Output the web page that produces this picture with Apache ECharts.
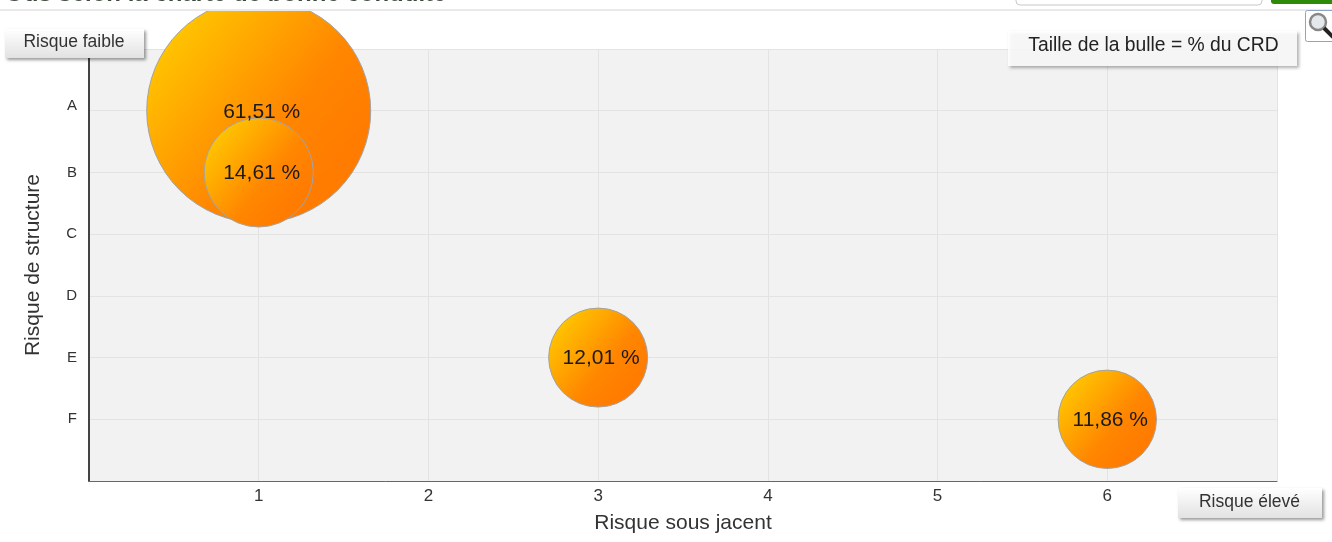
<!DOCTYPE html>
<html>
<head>
<meta charset="utf-8">
<style>html,body{margin:0;padding:0;background:#fff}#chart{width:1332px;height:542px}</style>
<script src="https://cdn.jsdelivr.net/npm/echarts@6/dist/echarts.min.js"></script>
</head>
<body>
<div id="chart"></div>
<script>
const xTicks = ['', '1', '2', '3', '4', '5', '6', ''];
const yTicks = ['', '{up|A}', 'B', 'C', 'D', 'E', 'F', ''];
const riskX = [1, 1, 3, 6];
const riskY = [1, 2, 5, 6];
const shares = [61.51, 14.61, 12.01, 11.86];

const font = '"Liberation Sans", Arial, sans-serif';
const chart = echarts.init(document.getElementById('chart'));

const fill = new echarts.graphic.LinearGradient(0.08, 0.08, 0.85, 0.72, [
  { offset: 0, color: '#ffcc00' },
  { offset: 0.7, color: '#ff8600' },
  { offset: 1, color: '#ff7c00' }
]);

function button(x, y, w, h, label) {
  return {
    type: 'group',
    z: 100,
    children: [
      {
        type: 'rect',
        z: 100,
        shape: { x, y, width: w, height: h },
        style: {
          fill: new echarts.graphic.LinearGradient(0, 0, 0, 1, [
            { offset: 0, color: '#ffffff' },
            { offset: 1, color: '#e2e2e2' }
          ]),
          shadowBlur: 3,
          shadowOffsetX: 2,
          shadowOffsetY: 2,
          shadowColor: 'rgba(0,0,0,0.4)'
        }
      },
      {
        type: 'text',
        z: 101,
        style: {
          x: x + w / 2 - 0.5,
          y: y + h / 2 - 1,
          text: label,
          align: 'center',
          verticalAlign: 'middle',
          fill: '#333',
          font: '17.5px ' + font
        }
      }
    ]
  };
}

chart.setOption({
  animation: false,
  grid: { left: 89, right: 55, top: 49, bottom: 61, show: true, backgroundColor: '#f2f2f2', borderWidth: 0 },
  xAxis: {
    type: 'value',
    min: 0,
    max: 7,
    interval: 1,
    name: 'Risque sous jacent',
    nameLocation: 'middle',
    nameGap: 32,
    nameTextStyle: { fontFamily: font, fontSize: 21, color: '#333' },
    axisLine: { show: true, onZero: false, lineStyle: { color: '#666', width: 1 } },
    axisTick: { show: false },
    axisLabel: { fontFamily: font, fontSize: 17, color: '#333', margin: 7, formatter: v => xTicks[v] },
    splitLine: { lineStyle: { color: '#e3e3e3', width: 1 } }
  },
  yAxis: {
    type: 'value',
    inverse: true,
    min: 0,
    max: 7,
    interval: 1,
    name: 'Risque de structure',
    nameLocation: 'middle',
    nameGap: 45,
    nameTextStyle: { fontFamily: font, fontSize: 21, color: '#333' },
    axisLine: { show: true, onZero: false, lineStyle: { color: '#444', width: 2 } },
    axisTick: { show: false },
    axisLabel: {
      fontFamily: font,
      fontSize: 15,
      color: '#333',
      margin: 12,
      formatter: v => yTicks[v],
      rich: { up: { fontFamily: font, fontSize: 15, color: '#333', padding: [0, 0, 10, 0] } }
    },
    splitLine: { lineStyle: { color: '#e3e3e3', width: 1 } }
  },
  series: [{
    type: 'scatter',
    clip: false,
    data: shares.map((s, i) => [riskX[i], riskY[i], s]),
    symbolSize: d => Math.sqrt(d[2]) * 28.56,
    itemStyle: { color: fill, borderColor: '#a3a3a3', borderWidth: 1, opacity: 1 },
    label: {
      show: true,
      position: 'inside',
      offset: [3, 1],
      fontFamily: font,
      fontSize: 21,
      color: '#1a1a1a',
      formatter: p => p.data[2].toFixed(2).replace('.', ',') + ' %'
    }
  }],
  graphic: [
    // bandeau de page coupe en haut
    { type: 'rect', z: 90, shape: { x: 0, y: 0, width: 1332, height: 10 }, style: { fill: '#fff' } },
    { type: 'rect', z: 91, shape: { x: 0, y: 9, width: 1332, height: 2 }, style: { fill: '#e9e9e9' } },
    {
      type: 'text', z: 92,
      style: {
        x: 5, y: 6,
        text: 'Ous selon la charte de bonne conduite',
        verticalAlign: 'bottom',
        fill: '#3f4a3f',
        font: 'bold 24px ' + font
      }
    },
    {
      type: 'rect', z: 92,
      shape: { x: 1016, y: -10, width: 246, height: 15, r: 4 },
      style: { fill: '#fff', stroke: '#c8c8c8', lineWidth: 1 }
    },
    { type: 'rect', z: 92, shape: { x: 1271, y: -10, width: 70, height: 14, r: 3 }, style: { fill: '#2e8b0a' } },
    // loupe
    {
      type: 'rect', z: 92,
      shape: { x: 1305.5, y: 10.5, width: 40, height: 31, r: 2 },
      style: { fill: '#fff', stroke: '#8fa3c4', lineWidth: 1 }
    },
    {
      type: 'circle', z: 93,
      shape: { cx: 1318, cy: 22, r: 8 },
      style: { fill: '#e4e8ea', stroke: '#888', lineWidth: 2.5 }
    },
    {
      type: 'line', z: 93,
      shape: { x1: 1324, y1: 28, x2: 1334, y2: 38 },
      style: { stroke: '#222', lineWidth: 4 }
    },
    // cartouche taille
    {
      type: 'group', z: 100,
      children: [
        {
          type: 'rect', z: 100,
          shape: { x: 1008, y: 31, width: 289, height: 35 },
          style: {
            fill: 'rgba(255,255,255,0.88)',
            shadowBlur: 3,
            shadowOffsetX: 2,
            shadowOffsetY: 2,
            shadowColor: 'rgba(0,0,0,0.35)'
          }
        },
        {
          type: 'text', z: 101,
          style: {
            x: 1153.5, y: 46,
            text: 'Taille de la bulle = % du CRD',
            align: 'center', verticalAlign: 'middle',
            fill: '#222', font: '19.3px ' + font
          }
        }
      ]
    },
    button(5, 29, 139, 29, 'Risque faible'),
    button(1178, 488, 144, 30, 'Risque élevé')
  ]
});
</script>
</body>
</html>
